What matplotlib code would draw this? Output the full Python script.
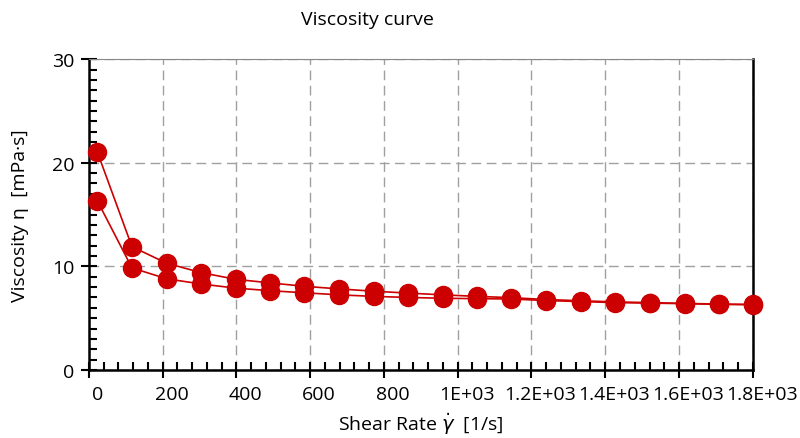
import matplotlib.pyplot as plt
import matplotlib.transforms as mtransforms
from matplotlib.ticker import MultipleLocator

plt.rcParams['font.family'] = ['Open Sans', 'DejaVu Sans']

# --- Viscosity curve data ---
shear_rate = [23.5, 117, 211, 304, 398, 492, 583, 679, 773, 865,
              959, 1053, 1145, 1239, 1333, 1427, 1521, 1615, 1709, 1800]
visc_up = [21.0, 11.9, 10.3, 9.4, 8.75, 8.4, 8.08, 7.82, 7.6, 7.42,
           7.25, 7.1, 6.98, 6.8, 6.68, 6.57, 6.5, 6.42, 6.36, 6.32]
visc_down = [16.3, 9.85, 8.8, 8.3, 7.9, 7.65, 7.45, 7.25, 7.1, 7.0,
             6.92, 6.88, 6.85, 6.7, 6.6, 6.5, 6.45, 6.4, 6.33, 6.3]

x_ticks = [0, 200, 400, 600, 800, 1000, 1200, 1400, 1600, 1800]
x_tick_labels = ['0', '200', '400', '600', '800', '1E+03', '1.2E+03',
                 '1.4E+03', '1.6E+03', '1.8E+03']
y_ticks = [0, 10, 20, 30]

red = '#cc0000'

fig = plt.figure(figsize=(8, 4.39), dpi=100)
ax = fig.add_axes([0.111, 0.155, 0.83, 0.708])

ax.plot(shear_rate, visc_up, '-o', color=red, lw=1.2, ms=13, zorder=3, clip_on=False)
ax.plot(shear_rate, visc_down, '-o', color=red, lw=1.2, ms=13, zorder=3, clip_on=False)

ax.set_xlim(0, 1800)
ax.set_ylim(0, 30)
ax.set_xticks(x_ticks)
ax.set_xticklabels(x_tick_labels)
ax.set_yticks(y_ticks)
ax.xaxis.set_minor_locator(MultipleLocator(40))
ax.yaxis.set_minor_locator(MultipleLocator(1))

ax.grid(True, which='major', color='#a0a0a0', linestyle=(0, (7, 4)), lw=1.0, zorder=0)
ax.set_axisbelow(True)

ax.tick_params(which='major', direction='inout', length=11, width=1.5,
               labelsize=14, pad=5, colors='black')
ax.tick_params(which='minor', direction='in', length=5.5, width=1.5)

# labels sit a little right of their ticks in the original
for lbl in ax.get_xticklabels():
    lbl.set_transform(lbl.get_transform() +
                      mtransforms.ScaledTranslation(0.09, 0, fig.dpi_scale_trans))

for side in ['left', 'bottom', 'right']:
    ax.spines[side].set_linewidth(1.8)
    ax.spines[side].set_color('black')
ax.spines['top'].set_linewidth(0.8)
ax.spines['top'].set_color('#888888')

ax.set_xlabel(r'Shear Rate $\dot{\gamma}$  [1/s]', fontsize=14, labelpad=6)
ax.set_ylabel('Viscosity η  [mPa·s]', fontsize=14, labelpad=16)
fig.text(0.459, 0.954, 'Viscosity curve', fontsize=14, ha='center', va='center')

fig.savefig('out.png', dpi=100)
